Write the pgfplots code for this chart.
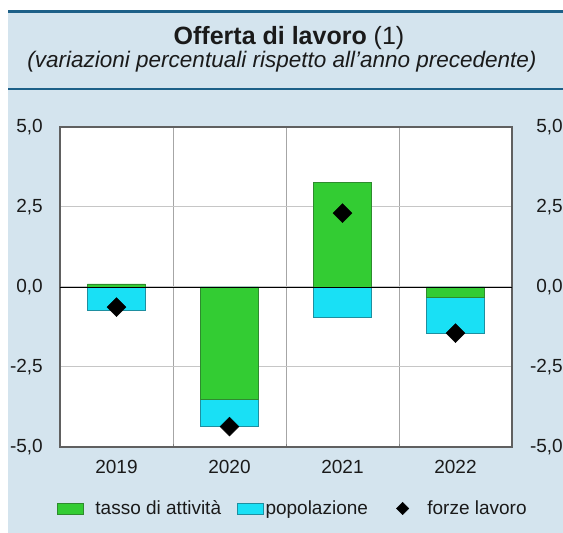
\documentclass[border=0pt]{standalone}
\usepackage{pgfplots}
\pgfplotsset{compat=1.18}
\usepackage{fontspec}
\setmainfont{Liberation Sans}
\definecolor{bgblue}{HTML}{D4E4EE}
\definecolor{lineblue}{HTML}{1D6088}
\definecolor{cgreen}{HTML}{33CC33}
\definecolor{cgreenedge}{HTML}{2E8B2E}
\definecolor{ccyan}{HTML}{19E0F5}
\definecolor{ccyanedge}{HTML}{1E8FA0}
\definecolor{framegray}{HTML}{606060}
\definecolor{txt}{HTML}{1A1A1A}
\newcommand{\tickfont}{\fontsize{19}{22}\selectfont}

% green = tasso di attivita, cyan = popolazione (bottom of the negative part), diamond = forze lavoro
\pgfplotstableread{
x  tasso  popneg  forze
0   0.10  -0.72  -0.63
1  -3.52  -4.36  -4.36
2   3.27  -0.94   2.31
3  -0.31  -1.44  -1.44
}\offerta

\begin{document}
\begin{tikzpicture}[x=1pt,y=1pt]
\path[use as bounding box] (0,0) rectangle (563,533);
\fill[white] (0,0) rectangle (563,533);
\fill[bgblue] (8,0) rectangle (563,523);
\fill[lineblue] (8,520) rectangle (563,523);
\fill[lineblue] (8,442.5) rectangle (563,445);
\node[anchor=base, text=txt] at (289,488) {\fontsize{25}{30}\selectfont\textbf{Offerta di lavoro} (1)};
\node[anchor=base, text=txt] at (282,465) {\fontsize{22.5}{26}\selectfont\itshape (variazioni percentuali rispetto all’anno precedente)};

\begin{axis}[
  at={(60pt,86pt)}, anchor=south west,
  scale only axis, width=452pt, height=320pt,
  axis background/.style={fill=white},
  xmin=-0.5, xmax=3.5, ymin=-5, ymax=5,
  axis line style={draw=framegray, line width=1.3pt},
  xtick={0,1,2,3}, xticklabels={2019,2020,2021,2022},
  major x tick style={draw=none},
  minor xtick={0.5,1.5,2.5},
  xminorgrids, minor grid style={draw=gray!70, line width=0.9pt},
  xtick pos=bottom,
  ytick={-5,-2.5,0,2.5,5},
  yticklabels={{-5,0},{-2,5},{0,0},{2,5},{5,0}},
  ymajorgrids, major grid style={draw=gray!45, line width=1pt},
  major y tick style={draw=none},
  ytick pos=left,
  yticklabel style={anchor=east, inner sep=0pt, xshift=-17pt, font=\tickfont, text=txt},
  xticklabel style={anchor=north, inner sep=0pt, yshift=-13pt, font=\tickfont, text=txt},
  legend style={at={(axis description cs:-0.007,-0.192)}, anchor=west,
    draw=none, fill=none, inner sep=0pt, font=\tickfont, text=txt,
    nodes={inner sep=0pt},
    /tikz/column 1/.style={column sep=12pt},
    /tikz/column 2/.style={column sep=16pt},
    /tikz/column 3/.style={column sep=2pt},
    /tikz/column 4/.style={column sep=22pt},
    /tikz/column 5/.style={column sep=12pt}},
  legend columns=3, legend cell align=left,
]
\addlegendimage{legend image code/.code={\draw[fill=cgreen, draw=cgreenedge] (0pt,-5.3pt) rectangle (26pt,5.3pt);}}
\addlegendentry{tasso di attività}
\addlegendimage{legend image code/.code={\draw[fill=ccyan, draw=ccyanedge] (0pt,-5.3pt) rectangle (26pt,5.3pt);}}
\addlegendentry{popolazione}
\addlegendimage{legend image code/.code={\draw[black, fill=black, mark=square*, mark size=4.4pt, mark options={rotate=45}, only marks] plot coordinates {(12.5pt,0pt)}; \path (0pt,0pt) (25pt,0pt);}}
\addlegendentry{forze lavoro}

\addplot[ybar, bar width=58pt, bar shift=0pt, fill=ccyan, draw=ccyanedge, forget plot] table[x=x, y=popneg] {\offerta};
\addplot[ybar, bar width=58pt, bar shift=0pt, fill=cgreen, draw=cgreenedge, forget plot] table[x=x, y=tasso] {\offerta};
\draw[black, line width=0.9pt] (axis cs:-0.5,0) -- (axis cs:3.5,0);
\addplot[only marks, mark=square*, mark size=6.7pt, mark options={rotate=45, fill=black, draw=black}, forget plot] table[x=x, y=forze] {\offerta};
\end{axis}

\begin{axis}[
  at={(60pt,86pt)}, anchor=south west,
  scale only axis, width=452pt, height=320pt,
  xmin=-0.5, xmax=3.5, ymin=-5, ymax=5,
  hide x axis,
  axis y line*=right,
  axis line style={draw=none},
  major tick length=0pt,
  ytick={-5,-2.5,0,2.5,5},
  yticklabels={{-5,0},{-2,5},{0,0},{2,5},{5,0}},
  yticklabel style={anchor=east, inner sep=0pt, xshift=51pt, font=\tickfont, text=txt},
]
\addplot[draw=none, forget plot] coordinates {(0,0)};
\end{axis}
\end{tikzpicture}
\end{document}
